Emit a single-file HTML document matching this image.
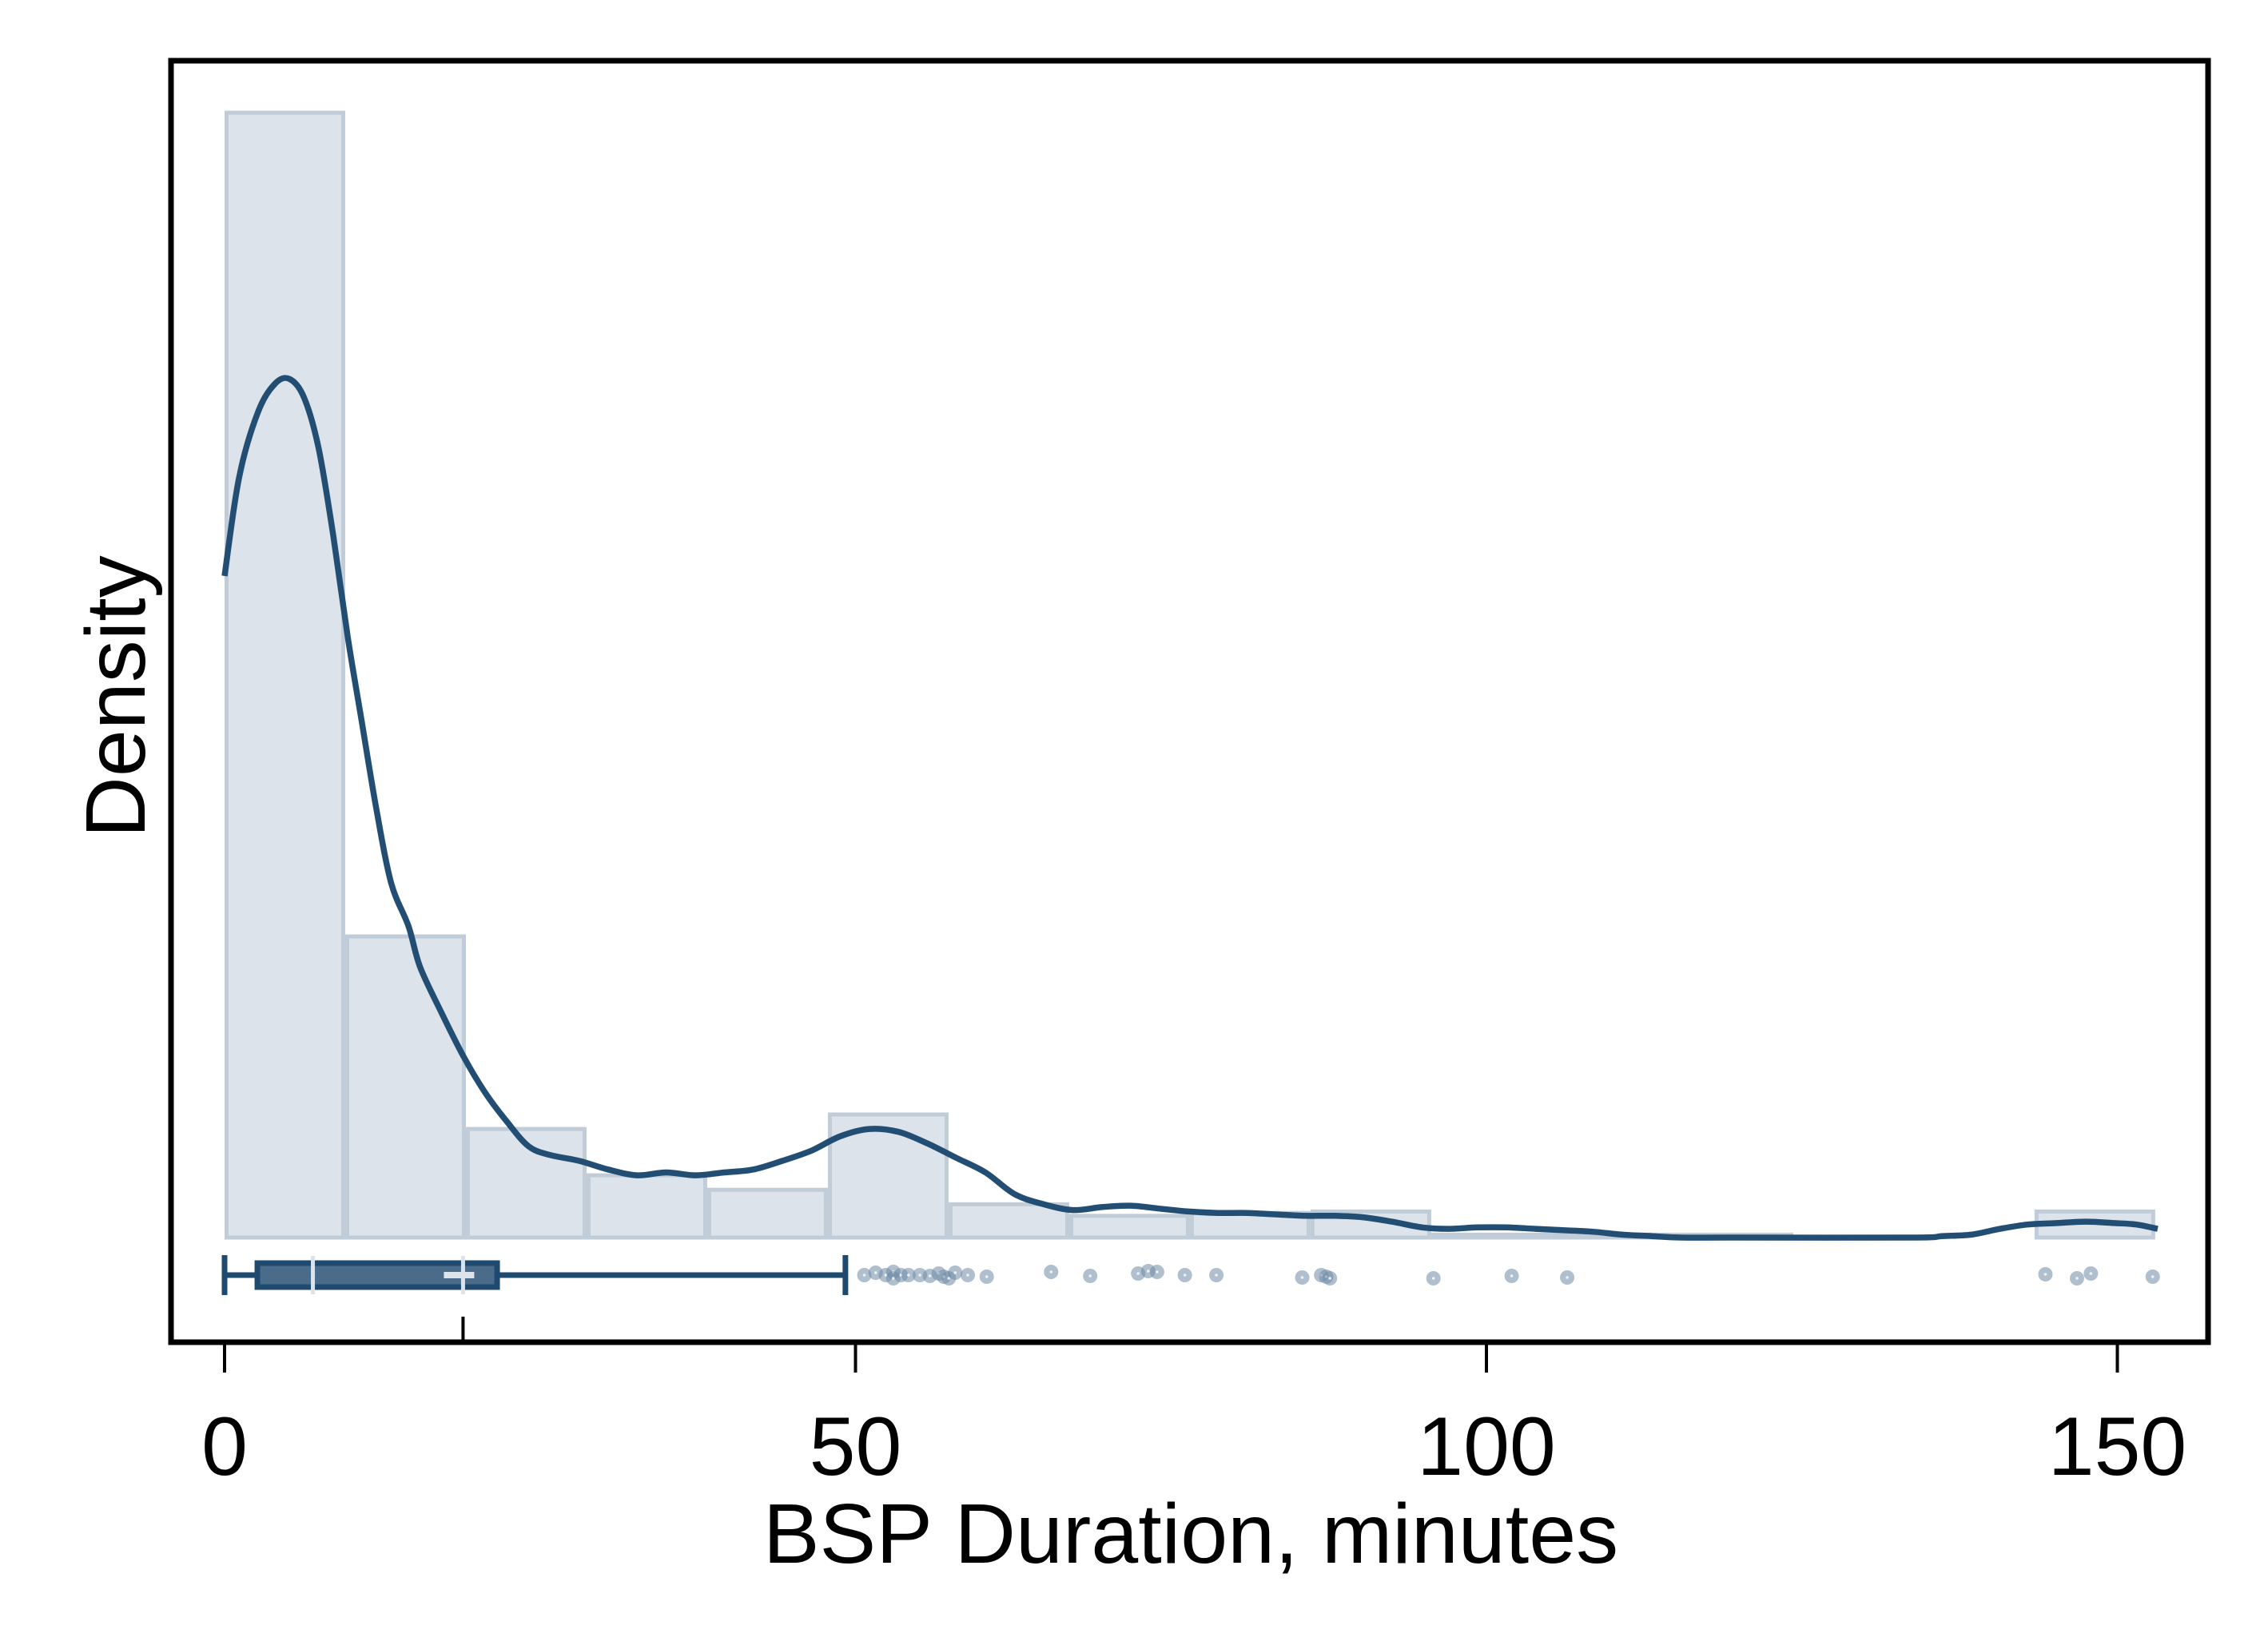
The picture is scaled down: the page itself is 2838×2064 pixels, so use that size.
<!DOCTYPE html>
<html><head><meta charset="utf-8"><style>
html,body{margin:0;padding:0;background:#fff;}
svg{display:block;font-family:"Liberation Sans",sans-serif;}
</style></head><body>
<svg id="chart" width="2838" height="2064" viewBox="0 0 2838 2064" xmlns="http://www.w3.org/2000/svg">
<rect x="0" y="0" width="2838" height="2064" fill="#ffffff"/>
<g id="bars"></g>
<g id="kde"></g>
<g id="box"></g>
<g id="axes"></g>
</svg>
<script>
const binWidth = 9.5625;
const binDensity = [0.0777,0.0208,0.0075,0.0043,0.0033,0.0085,0.0023,0.0015,0.0017,0.0018,0.0002,0.0002,0.0002,0,0,0.0018];
const kdeX = [0,1.15,2.64,4.02,5.17,6.31,7.46,8.61,9.76,10.9,12.05,13.2,14.58,15.49,17.21,18.94,20.66,22.38,24.1,25.8,28.1,30.4,32.7,35.0,37.3,39.6,41.9,44.2,46.5,48.8,51.1,53.4,55.7,58.0,60.3,62.6,64.9,67.2,69.5,71.8,74.1,76.4,78.7,81.0,83.3,85.6,87.9,90.2,92.5,94.9,97.0,99.3,101.6,103.9,106.2,108.5,110.8,113.1,115.4,120.0,133.8,136.1,138.4,140.7,142.9,145.2,147.5,149.8,151.5,153.2];
const kdeY = [0.0457,0.0525,0.057,0.059,0.0593,0.058,0.0545,0.0485,0.0415,0.0355,0.0295,0.0245,0.0215,0.0187,0.0155,0.0125,0.01,0.008,0.0063,0.0057,0.0053,0.0047,0.0043,0.0045,0.0043,0.0045,0.0047,0.0053,0.006,0.007,0.0075,0.0073,0.0065,0.0055,0.0045,0.003,0.0023,0.0019,0.0021,0.0022,0.002,0.0018,0.0017,0.0017,0.0016,0.0015,0.0015,0.0014,0.0011,0.0007,0.0006,0.0007,0.0007,0.0006,0.0005,0.0004,0.0002,0.0001,0,0,0,0.0001,0.0002,0.0006,0.0009,0.001,0.0011,0.001,0.0009,0.0006];
const boxStats = {min:0, q1:2.6, median:7.0, mean:18.9, q3:21.6, max:49.2};
const outliers = [50.7,51.6,52.4,53.0,53.0,53.6,54.2,55.1,55.9,56.6,57.0,57.4,57.9,58.9,60.4,65.5,68.6,72.4,73.2,73.9,76.1,78.6,85.4,86.9,87.3,87.6,95.8,102.0,106.4,144.3,146.8,147.9,152.8];
const jitter = [0,-3,0,-4,4,0,0,0,1,-2,2,4,-3,0,2,-4,1,-2,-5,-4,0,0,3,0,2,4,4,1,3,-1,4,-2,2];
const xTicks = [0,50,100,150];

const NS="http://www.w3.org/2000/svg";
const X0=281, PX=15.79, Y0=1549, PY=18120;
const xs=v=>X0+v*PX, ys=d=>Y0-d*PY;
function mk(tag,attrs,parent){const e=document.createElementNS(NS,tag);for(const k in attrs)e.setAttribute(k,attrs[k]);parent.appendChild(e);return e;}

const gb=document.getElementById('bars');
binDensity.forEach((d,i)=>{
  const x1=xs(i*binWidth), x2=xs((i+1)*binWidth);
  const r=mk('rect',{x:x1+2.5,y:ys(d),width:x2-x1-5,height:Math.max(0,Y0-ys(d)),fill:'#dce3ea',stroke:'#c0ccd7','stroke-width':5},gb);
  
  
});

const gk=document.getElementById('kde');
const P=kdeX.map((x,i)=>[xs(x),ys(kdeY[i])]);
let dpath='M'+P[0][0].toFixed(1)+','+P[0][1].toFixed(1);
for(let i=0;i<P.length-1;i++){
  const p0=P[Math.max(0,i-1)],p1=P[i],p2=P[i+1],p3=P[Math.min(P.length-1,i+2)];
  const c1=[p1[0]+(p2[0]-p0[0])/6,p1[1]+(p2[1]-p0[1])/6];
  const c2=[p2[0]-(p3[0]-p1[0])/6,p2[1]-(p3[1]-p1[1])/6];
  dpath+=' C'+c1[0].toFixed(1)+','+c1[1].toFixed(1)+' '+c2[0].toFixed(1)+','+c2[1].toFixed(1)+' '+p2[0].toFixed(1)+','+p2[1].toFixed(1);
}
const pl=mk('path',{d:dpath,fill:'none',stroke:'#234e74','stroke-width':7.5,'stroke-linejoin':'round'},gk);



const g=document.getElementById('box');
const cy=1596;
let e;
e=mk('line',{x1:xs(boxStats.min),x2:xs(boxStats.max),y1:cy,y2:cy,stroke:'#1f4a70','stroke-width':7},g);


[boxStats.min,boxStats.max].forEach(v=>{
  const c=mk('line',{x1:xs(v),x2:xs(v),y1:cy-25,y2:cy+25,stroke:'#1f4a70','stroke-width':7},g);
  
  
});
e=mk('rect',{x:xs(boxStats.q1),y:cy-15,width:xs(boxStats.q3)-xs(boxStats.q1),height:30,fill:'#4a6b8a',stroke:'#1f4a70','stroke-width':7},g);


e=mk('line',{x1:xs(boxStats.median),x2:xs(boxStats.median),y1:cy-24,y2:cy+24,stroke:'#dce3ea','stroke-width':5},g);


e=mk('line',{x1:xs(boxStats.mean),x2:xs(boxStats.mean),y1:cy-24,y2:cy+24,stroke:'#dce3ea','stroke-width':5},g);


e=mk('line',{x1:xs(boxStats.mean)-24,x2:xs(boxStats.mean)+14,y1:cy,y2:cy,stroke:'#dce3ea','stroke-width':8},g);


outliers.forEach((v,i)=>{
  const c=mk('circle',{cx:xs(v),cy:cy+jitter[i],r:9,fill:'#6f8ba6','fill-opacity':0.55},g);
  
  
  const d=mk('circle',{cx:xs(v),cy:cy+jitter[i],r:1.8,fill:'#ffffff','fill-opacity':0.8},g);
  
  
});

const ga=document.getElementById('axes');
e=mk('rect',{x:214,y:76,width:2549,height:1604,fill:'none',stroke:'#000','stroke-width':7},ga);


e=mk('line',{x1:xs(boxStats.mean),x2:xs(boxStats.mean),y1:1648,y2:1680,stroke:'#000','stroke-width':4},ga);


xTicks.forEach(v=>{
  const t=mk('line',{x1:xs(v),x2:xs(v),y1:1683,y2:1718,stroke:'#000','stroke-width':4},ga);
  
  
  const l=mk('text',{x:xs(v),y:1846,'font-size':104,'text-anchor':'middle',fill:'#000'},ga);
  l.textContent=v;
  
  
});
e=mk('text',{x:1490,y:1956,'font-size':106,'text-anchor':'middle',fill:'#000'},ga);
e.textContent='BSP Duration, minutes';


e=mk('text',{x:0,y:0,'font-size':106,'text-anchor':'middle',fill:'#000',transform:'translate(181,872) rotate(-90)'},ga);
e.textContent='Density';


</script>
</body></html>
